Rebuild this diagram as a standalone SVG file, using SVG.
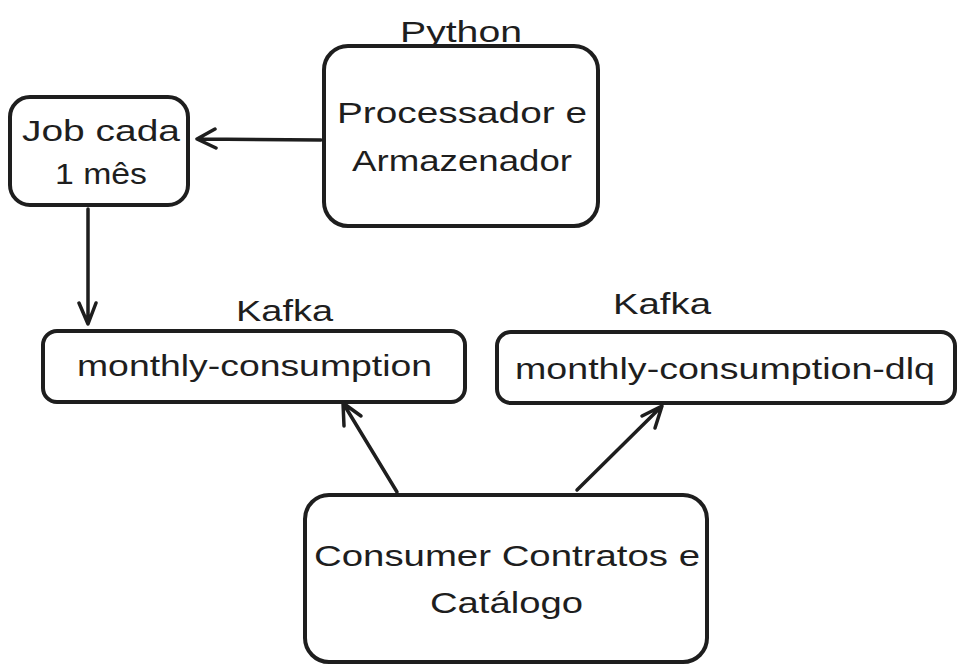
<svg xmlns="http://www.w3.org/2000/svg" width="963" height="672" viewBox="0 0 963 672">
<defs>
<style>
.box{fill:#fff;stroke:#1e1e1e;stroke-width:4}
.t{font-family:"Liberation Sans","DejaVu Sans",sans-serif;font-size:30px;fill:#1e1e1e}
.edge{fill:none;stroke:#1e1e1e;stroke-width:3.5;stroke-linecap:round;stroke-linejoin:round}
</style>
</defs>
<rect width="963" height="672" fill="#fff"/>
<g id="python">
<text class="t" x="400" y="42" textLength="122" lengthAdjust="spacingAndGlyphs">Python</text>
<rect class="box" x="324" y="46" width="274" height="180" rx="24"/>
<text class="t" x="337" y="123" textLength="250" lengthAdjust="spacingAndGlyphs">Processador e</text>
<text class="t" x="352" y="171" textLength="220" lengthAdjust="spacingAndGlyphs">Armazenador</text>
</g>
<g id="job">
<rect class="box" x="10" y="97" width="178" height="108" rx="20"/>
<text class="t" x="22" y="141" textLength="158" lengthAdjust="spacingAndGlyphs">Job cada</text>
<text class="t" x="55" y="184" textLength="92" lengthAdjust="spacingAndGlyphs">1 mês</text>
</g>
<g id="topic">
<text class="t" x="236" y="321" textLength="97" lengthAdjust="spacingAndGlyphs">Kafka</text>
<rect class="box" x="43" y="331" width="422" height="71" rx="14"/>
<text class="t" x="77" y="376" textLength="355" lengthAdjust="spacingAndGlyphs">monthly-consumption</text>
</g>
<g id="dlq">
<text class="t" x="613" y="314" textLength="98" lengthAdjust="spacingAndGlyphs">Kafka</text>
<rect class="box" x="497" y="332" width="458" height="71" rx="14"/>
<text class="t" x="515" y="379" textLength="420" lengthAdjust="spacingAndGlyphs">monthly-consumption-dlq</text>
</g>
<g id="consumer">
<rect class="box" x="305" y="495" width="402" height="167" rx="24"/>
<text class="t" x="314" y="566" textLength="386" lengthAdjust="spacingAndGlyphs">Consumer Contratos e</text>
<text class="t" x="430" y="613" textLength="153" lengthAdjust="spacingAndGlyphs">Catálogo</text>
</g>
<g id="connectors">
<path class="edge" d="M321 140 L197 139 M215 129 L197 139 L216 148"/>
<path class="edge" d="M88 209 L88 324 M79 303 L88 324 L96 303"/>
<path class="edge" d="M397 492 L343 403 M344 426 L343 403 L361 416"/>
<path class="edge" d="M577 490 L662 406 M642 416 L662 406 L655 428"/>
</g>
</svg>
